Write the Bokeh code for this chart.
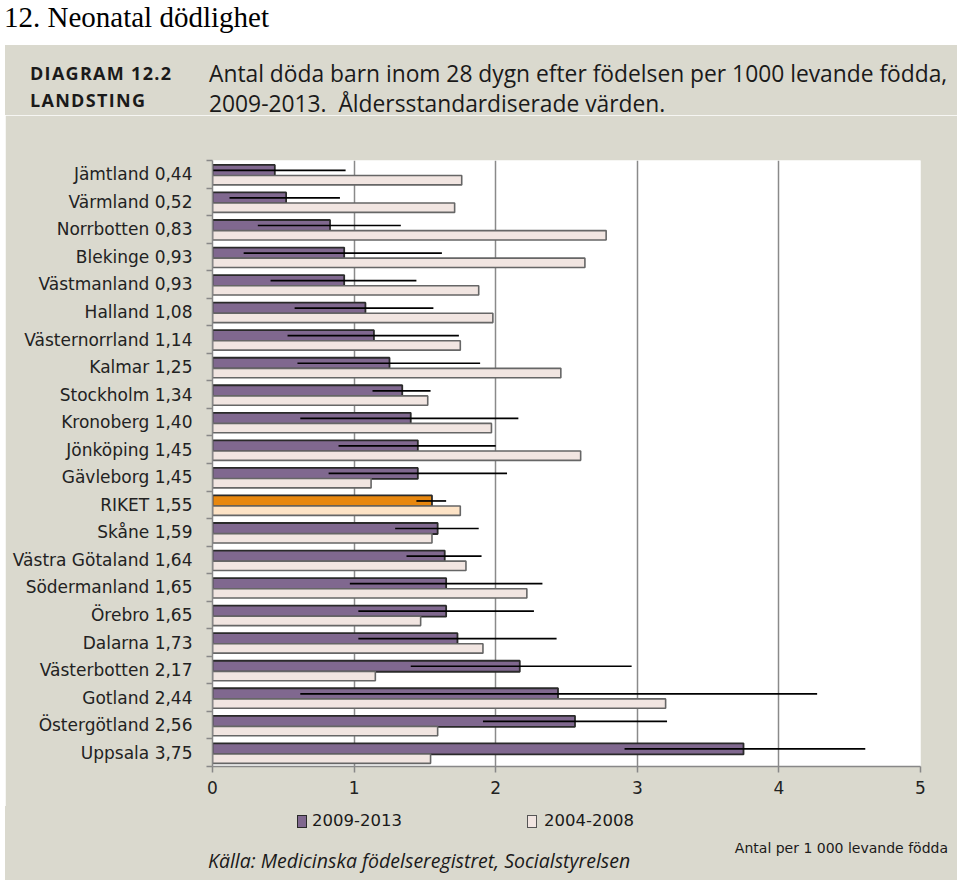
from bokeh.plotting import figure
from bokeh.models import Range1d, FixedTicker, ColumnDataSource, Div
from bokeh.layouts import column
from bokeh.embed import file_html
from bokeh.resources import INLINE

# ---------------- data ----------------
regions = ["Jämtland", "Värmland", "Norrbotten", "Blekinge", "Västmanland",
           "Halland", "Västernorrland", "Kalmar", "Stockholm", "Kronoberg",
           "Jönköping", "Gävleborg", "RIKET", "Skåne", "Västra Götaland",
           "Södermanland", "Örebro", "Dalarna", "Västerbotten", "Gotland",
           "Östergötland", "Uppsala"]
rate_2009_2013 = [0.44, 0.52, 0.83, 0.93, 0.93, 1.08, 1.14, 1.25, 1.34, 1.40,
                  1.45, 1.45, 1.55, 1.59, 1.64, 1.65, 1.65, 1.73, 2.17, 2.44,
                  2.56, 3.75]
rate_2004_2008 = [1.76, 1.71, 2.78, 2.63, 1.88, 1.98, 1.75, 2.46, 1.52, 1.97,
                  2.60, 1.12, 1.75, 1.55, 1.79, 2.22, 1.47, 1.91, 1.15, 3.20,
                  1.59, 1.54]
ci_low = [0.00, 0.12, 0.32, 0.22, 0.41, 0.58, 0.53, 0.60, 1.13, 0.62, 0.89,
          0.82, 1.44, 1.29, 1.37, 0.97, 1.03, 1.03, 1.40, 0.62, 1.91, 2.91]
ci_high = [0.94, 0.90, 1.33, 1.62, 1.44, 1.56, 1.74, 1.89, 1.54, 2.16, 2.00,
           2.08, 1.65, 1.88, 1.90, 2.33, 2.27, 2.43, 2.96, 4.27, 3.21, 4.61]
x_ticks = [0, 1, 2, 3, 4, 5]
series_labels = ["2009-2013", "2004-2008"]
national = "RIKET"

page_title = "12. Neonatal dödlighet"
diagram_id = "DIAGRAM 12.2"
diagram_level = "LANDSTING"
title_line1 = "Antal döda barn inom 28 dygn efter födelsen per 1000 levande födda,"
title_line2 = "2009-2013.&nbsp; Åldersstandardiserade värden."
source_note = "Källa: Medicinska födelseregistret, Socialstyrelsen"
unit_note = "Antal per 1 000 levande födda"

# ---------------- styles ----------------
PANEL = "#dad9ce"
PURPLE = "#80688f"
LIGHT = "#f1e5e1"
ORANGE = "#e8870e"
PEACH = "#fde3c6"
LABEL_FONT = "DejaVu Sans"
TITLE_FONT = "'Open Sans', sans-serif"

n = len(regions)
centers = [n - 1 - i + 0.5 for i in range(n)]
bounds = list(range(n + 1))

src = ColumnDataSource(dict(
    y_new=[c + 0.14 for c in centers],
    y_old=[c - 0.215 for c in centers],
    new=rate_2009_2013,
    old=rate_2004_2008,
    lo=ci_low,
    hi=ci_high,
    fill_new=[ORANGE if r == national else PURPLE for r in regions],
    fill_old=[PEACH if r == national else LIGHT for r in regions],
))

p = figure(width=952, height=691, x_range=Range1d(0, 5), y_range=Range1d(0, n),
           output_backend="svg", toolbar_location=None,
           min_border_left=207, min_border_right=37,
           min_border_top=45, min_border_bottom=40,
           border_fill_color=PANEL, background_fill_color="white",
           outline_line_color=None, margin=(0, 0, 0, 5))

# grid
p.ygrid.visible = False
p.xgrid.ticker = FixedTicker(ticks=x_ticks)
p.xgrid.grid_line_color = "#8a8a8a"
p.xgrid.grid_line_width = 1.5

# bars
r_new = p.hbar(y="y_new", left=0, right="new", height=0.40, source=src,
               fill_color="fill_new", line_color="#2a2a2a", line_width=1.8)
r_old = p.hbar(y="y_old", left=0, right="old", height=0.34, source=src,
               fill_color="fill_old", line_color="#666666", line_width=1.6)
p.segment(x0="lo", y0="y_new", x1="hi", y1="y_new", source=src,
          line_color="black", line_width=1.7)

# x axis
xa = p.xaxis[0]
xa.ticker = FixedTicker(ticks=x_ticks)
xa.axis_line_color = "#888888"
xa.axis_line_width = 1.5
xa.major_tick_line_color = "#888888"
xa.major_tick_line_width = 1.5
xa.major_tick_out = 6
xa.major_tick_in = 0
xa.minor_tick_line_color = None
xa.major_label_standoff = 8
xa.major_label_text_font = LABEL_FONT
xa.major_label_text_font_size = "17px"
xa.major_label_text_color = "#222222"

# y axis: labels at centres, ticks at category boundaries
ya = p.yaxis[0]
ya.ticker = FixedTicker(ticks=centers, minor_ticks=bounds)
ya.major_label_overrides = {
    c: f"{r} {v:.2f}".replace(".", ",")
    for c, r, v in zip(centers, regions, rate_2009_2013)
}
ya.axis_line_color = "#888888"
ya.axis_line_width = 1.5
ya.major_tick_line_color = None
ya.major_tick_out = 0
ya.major_tick_in = 0
ya.minor_tick_line_color = "#888888"
ya.minor_tick_line_width = 1.5
ya.minor_tick_out = 6
ya.minor_tick_in = 0
ya.major_label_standoff = 14
ya.major_label_text_font = LABEL_FONT
ya.major_label_text_font_size = "17px"
ya.major_label_text_color = "#222222"

# ---------------- header, legend and footer ----------------
def span(left, top, lh, text, font, size, extra=""):
    return (f'<span style="position:absolute;left:{left}px;top:{top}px;'
            f'line-height:{lh}px;font-family:{font};font-size:{size}px;'
            f'white-space:nowrap;color:#1a1a1a;{extra}">{text}</span>')

def swatch(left, top, fill, border):
    return (f'<span style="position:absolute;left:{left}px;top:{top}px;'
            f'box-sizing:border-box;width:10px;height:13px;background:{fill};'
            f'border:1.5px solid {border};"></span>')

header_html = (
    '<div style="position:relative;width:957px;height:115px;">'
    f'<div style="position:absolute;left:5px;top:45px;width:952px;height:70px;background:{PANEL};"></div>'
    + span(4, 0, 34, page_title, "'Liberation Serif', serif", 29, "color:#000;")
    + span(30, 61, 24, diagram_id, TITLE_FONT, 18, "font-weight:bold;letter-spacing:1.3px;")
    + span(30, 88, 24, diagram_level, TITLE_FONT, 18, "font-weight:bold;letter-spacing:1.3px;")
    + span(209, 59, 30, title_line1, TITLE_FONT, 22.8)
    + span(209, 89, 30, title_line2, TITLE_FONT, 22.8)
    + '</div>'
)
header = Div(text=header_html, width=957, height=115, margin=0)

# footer starts at the bottom of the figure (page y 806); coordinates are
# relative to the footer box, which starts at page x 5
footer_html = (
    f'<div style="position:relative;width:952px;height:74px;background:{PANEL};">'
    + swatch(292, 9, PURPLE, "#2a2a2a")
    + span(307, 4, 22, series_labels[0], LABEL_FONT, 16.5)
    + swatch(522, 9, LIGHT, "#555555")
    + span(539, 4, 22, series_labels[1], LABEL_FONT, 16.5)
    + span(203, 42, 26, source_note, TITLE_FONT, 19.5, "font-style:italic;")
    + f'<span style="position:absolute;right:9px;top:34px;line-height:16px;'
      f'font-family:{LABEL_FONT};font-size:14px;white-space:nowrap;color:#1a1a1a;">{unit_note}</span>'
    + '</div>'
)
footer = Div(text=footer_html, width=952, height=74, margin=(0, 0, 0, 5))

layout = column(header, p, footer, spacing=0)
open("out.html", "w").write(file_html(layout, INLINE))
